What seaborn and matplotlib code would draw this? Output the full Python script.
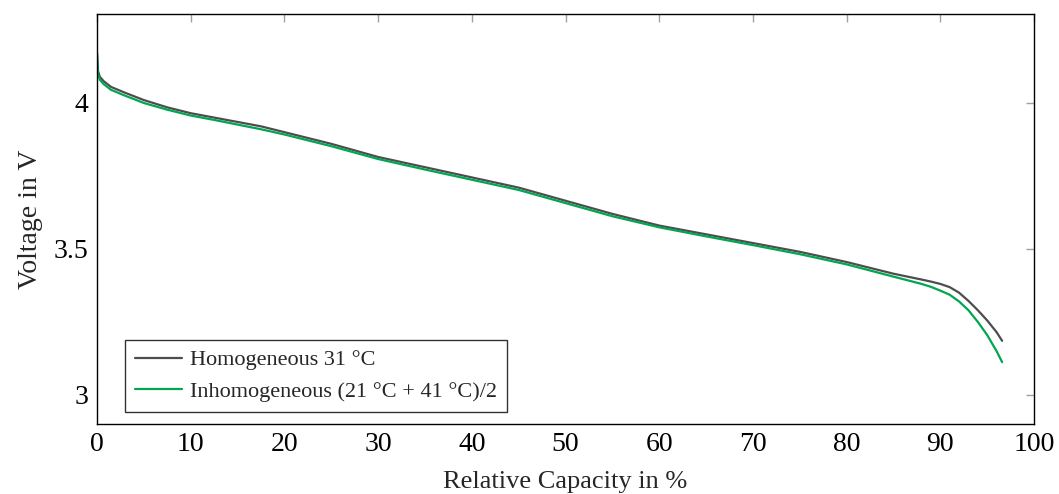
import matplotlib
matplotlib.use("Agg")
import matplotlib.pyplot as plt
import seaborn as sns
import pandas as pd
import numpy as np

capacity = [0, 0.1, 0.3, 0.7, 1.5, 3, 5, 7.5, 10, 12.5, 15, 17.5, 20, 25, 30, 35,
            40, 45, 50, 55, 60, 65, 70, 75, 80, 85, 88, 89, 90, 91, 92, 93, 94,
            95, 96, 96.6]
v_homog = [4.17, 4.11, 4.09, 4.075, 4.055, 4.035, 4.01, 3.985, 3.965, 3.95, 3.935,
           3.92, 3.90, 3.86, 3.815, 3.78, 3.745, 3.71, 3.665, 3.62, 3.58, 3.55,
           3.52, 3.49, 3.455, 3.415, 3.395, 3.388, 3.38, 3.369, 3.35, 3.322, 3.29,
           3.255, 3.215, 3.185]
v_inhomog = [4.17, 4.10, 4.08, 4.065, 4.045, 4.025, 4.0, 3.977, 3.957, 3.942, 3.926,
             3.91, 3.892, 3.852, 3.808, 3.772, 3.737, 3.702, 3.657, 3.612, 3.574,
             3.543, 3.513, 3.482, 3.447, 3.405, 3.38, 3.37, 3.357, 3.343, 3.32,
             3.29, 3.25, 3.205, 3.15, 3.112]
labels = ["Homogeneous 31 °C", "Inhomogeneous (21 °C + 41 °C)/2"]
x_ticks = [0, 10, 20, 30, 40, 50, 60, 70, 80, 90, 100]
y_ticks = [3, 3.5, 4]
y_tick_labels = ["3", "3.5", "4"]

df = pd.DataFrame({
    "Capacity": capacity * 2,
    "Voltage": v_homog + v_inhomog,
    "Series": [labels[0]] * len(capacity) + [labels[1]] * len(capacity),
})

sns.set_theme(style="white")
plt.rcParams["font.family"] = ["Liberation Serif", "DejaVu Serif"]

fig = plt.figure(figsize=(10.59, 4.94), dpi=100)
ax = fig.add_axes([0.0916, 0.1417, 0.8848, 0.83])

palette = {labels[0]: "#4d4d4d", labels[1]: "#00a650"}
sns.lineplot(data=df, x="Capacity", y="Voltage", hue="Series", palette=palette,
             linewidth=1.6, ax=ax, sort=False, estimator=None)

ax.set_xlim(0, 100)
ax.set_ylim(2.9, 4.305)
ax.set_xticks(x_ticks)
ax.set_xticklabels([str(t) for t in x_ticks])
ax.set_yticks(y_ticks)
ax.set_yticklabels(y_tick_labels)
ax.tick_params(axis="both", direction="in", length=6, width=1.0, color="#a0a0a0",
               labelsize=20, labelcolor="black", top=True, right=True, pad=6)
ax.set_xlabel("Relative Capacity in %", fontsize=19, labelpad=10)
ax.set_ylabel("Voltage in V", fontsize=20, labelpad=8)
for s in ax.spines.values():
    s.set_color("black")
    s.set_linewidth(1.0)

handles, lbls = ax.get_legend_handles_labels()
leg = ax.legend(handles, lbls, loc="lower left", bbox_to_anchor=(0.03, 0.029),
                borderaxespad=0, fontsize=16, frameon=True, fancybox=False,
                edgecolor="black", handlelength=2.1, handletextpad=0.35,
                borderpad=0.45, labelspacing=0.5)
leg.get_frame().set_linewidth(1.0)

fig.savefig("out.png", dpi=100)
